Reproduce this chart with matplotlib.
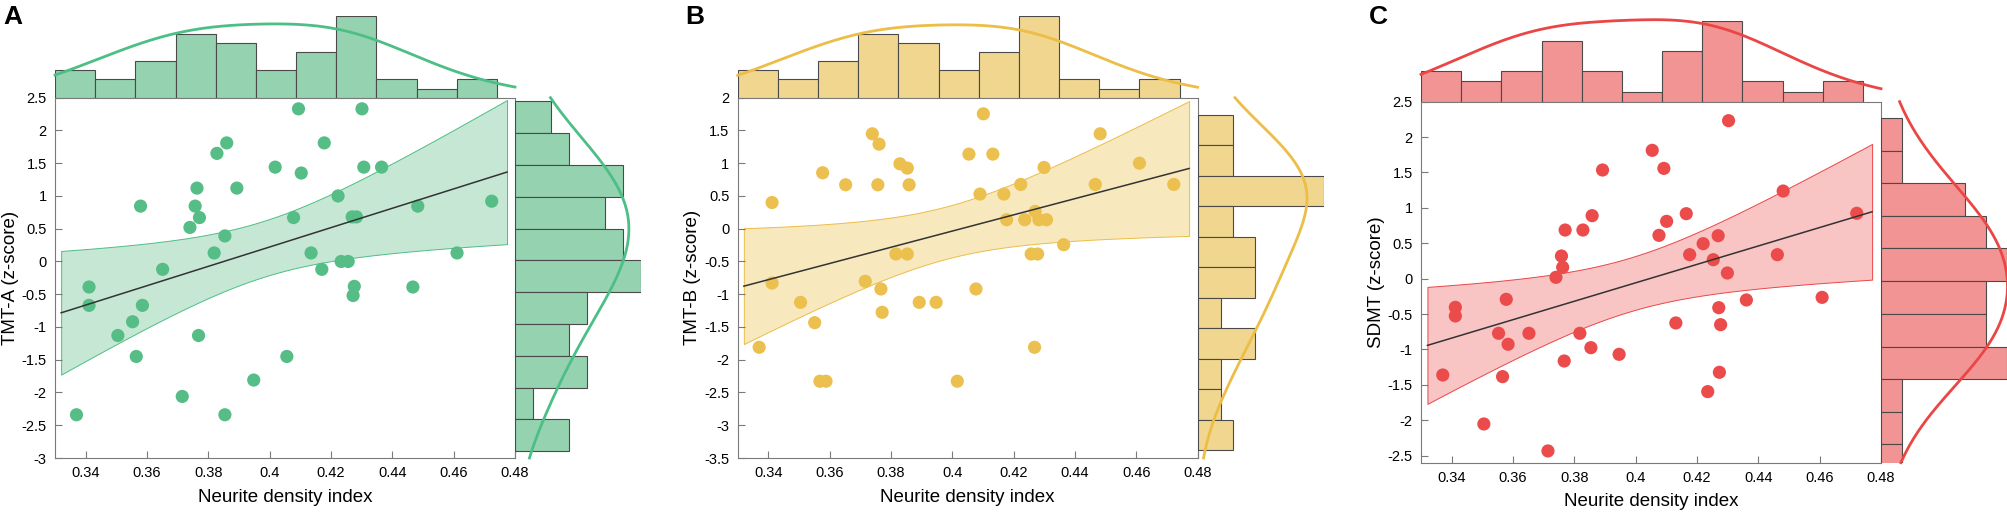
import numpy as np
import matplotlib
matplotlib.use("Agg")
import matplotlib.pyplot as plt

plt.rcParams['font.family'] = ['Liberation Sans', 'DejaVu Sans']
plt.rcParams['axes.unicode_minus'] = False

# ---- datos ----
ndi_a = [0.4094, 0.4301, 0.3860, 0.4178, 0.3828, 0.4018, 0.4307, 0.4365, 0.4103, 0.3763,
         0.3893, 0.4223, 0.4724, 0.3579, 0.3757, 0.4483, 0.3771, 0.4078, 0.4269, 0.4283,
         0.3740, 0.3854, 0.3819, 0.4135, 0.4611, 0.4233, 0.4256, 0.3651, 0.4170, 0.3411,
         0.4276, 0.4467, 0.4272, 0.3411, 0.3585, 0.3553, 0.3505, 0.3768, 0.3565, 0.4056,
         0.3948, 0.3715, 0.3370, 0.3854]
tmt_a = [2.33, 2.33, 1.81, 1.81, 1.65, 1.44, 1.44, 1.44, 1.35, 1.12,
         1.12, 1.00, 0.92, 0.845, 0.845, 0.845, 0.67, 0.67, 0.68, 0.68,
         0.52, 0.39, 0.13, 0.13, 0.13, 0.00, 0.00, -0.12, -0.12, -0.39,
         -0.38, -0.39, -0.52, -0.67, -0.67, -0.92, -1.13, -1.13, -1.45, -1.45,
         -1.81, -2.06, -2.34, -2.34]

ndi_b = [0.4101, 0.3739, 0.3761, 0.4054, 0.4132, 0.3829, 0.3853, 0.3577, 0.3652, 0.3757,
         0.3859, 0.4090, 0.4168, 0.3412, 0.4177, 0.3816, 0.3853, 0.3716, 0.3412, 0.3767,
         0.4077, 0.3505, 0.3892, 0.3947, 0.3771, 0.3551, 0.3370, 0.3568, 0.3588, 0.4016,
         0.4482, 0.4610, 0.4299, 0.4223, 0.4466, 0.4722, 0.4236, 0.4270, 0.4282, 0.4307,
         0.4363, 0.4257, 0.4278, 0.4268]
tmt_b = [1.754, 1.449, 1.291, 1.139, 1.139, 0.991, 0.925, 0.854, 0.671, 0.671,
         0.671, 0.529, 0.529, 0.400, 0.137, -0.386, -0.386, -0.803, -0.829, -0.920,
         -0.920, -1.124, -1.124, -1.124, -1.276, -1.434, -1.810, -2.328, -2.328, -2.328,
         1.449, 1.000, 0.935, 0.676, 0.676, 0.676, 0.137, 0.264, 0.137, 0.137,
         -0.244, -0.386, -0.386, -1.810]

ndi_c = [0.4054, 0.4092, 0.3892, 0.4165, 0.3858, 0.4101, 0.3770, 0.3828, 0.4076, 0.4176,
         0.3758, 0.3762, 0.3740, 0.3578, 0.3412, 0.3412, 0.3553, 0.3652, 0.3818, 0.4131,
         0.3584, 0.3854, 0.3946, 0.3767, 0.3371, 0.3566, 0.3505, 0.3714,
         0.4303, 0.4481, 0.4721, 0.4269, 0.4220, 0.4462, 0.4253, 0.4299, 0.4361, 0.4608,
         0.4271, 0.4277, 0.4273, 0.4235]
sdmt = [1.813, 1.558, 1.535, 0.918, 0.890, 0.810, 0.687, 0.687, 0.612, 0.339,
        0.320, 0.160, 0.019, -0.292, -0.405, -0.527, -0.772, -0.772, -0.772, -0.626,
        -0.927, -0.975, -1.069, -1.163, -1.361, -1.384, -2.053, -2.434,
        2.232, 1.238, 0.923, 0.607, 0.494, 0.339, 0.268, 0.080, -0.301, -0.264,
        -0.410, -0.650, -1.323, -1.596]

# histogramas marginales (bordes y conteos leidos)
top_edges = [0.3300, 0.3431, 0.3562, 0.3693, 0.3824, 0.3955, 0.4086,
             0.4217, 0.4348, 0.4479, 0.4610, 0.4741]
top_counts_a = [3, 2, 4, 7, 6, 3, 5, 9, 2, 1, 2]
top_counts_b = [3, 2, 4, 7, 6, 3, 5, 9, 2, 1, 2]
top_counts_c = [3, 2, 3, 6, 3, 1, 5, 8, 2, 1, 2]

right_edges_a = [2.448, 1.964, 1.476, 0.987, 0.499, 0.015, -0.473, -0.957,
                 -1.440, -1.929, -2.412, -2.896]
right_counts_a = [2, 3, 6, 5, 6, 7, 4, 3, 4, 1, 3]
right_edges_b = [1.729, 1.271, 0.808, 0.341, -0.127, -0.590, -1.057, -1.520,
                 -1.983, -2.445, -2.913, -3.376]
right_counts_b = [3, 3, 11, 3, 5, 5, 2, 5, 2, 2, 3]
right_edges_c = [2.265, 1.803, 1.347, 0.885, 0.428, -0.033, -0.494, -0.960,
                 -1.417, -1.879, -2.340, -2.800]
right_counts_c = [1, 1, 4, 5, 6, 5, 5, 6, 1, 1, 1]

# altura maxima de las curvas de densidad (en conteos)
kde_top_peak = [8.1, 8.0, 8.1]
kde_right_peak = [6.3, 9.5, 6.0]

x_ticks = [0.34, 0.36, 0.38, 0.40, 0.42, 0.44, 0.46, 0.48]
x_ticklabels = ['0.34', '0.36', '0.38', '0.4', '0.42', '0.44', '0.46', '0.48']

W, H = 2008, 513
SPINE = '#7a7a7a'
EDGE = '#4a4a4a'


def rect(l, t, w, h):
    return [l / W, 1 - (t + h) / H, w / W, h / H]


def kde(vals, grid, factor):
    # densidad gaussiana suavizada (ancho de banda tipo Silverman, ampliado)
    vals = np.asarray(vals)
    bw = factor * 1.06 * vals.std(ddof=1) * len(vals) ** (-0.2)
    d = np.exp(-0.5 * ((grid[:, None] - vals[None, :]) / bw) ** 2).sum(axis=1)
    return d / d.max()


def panel(fig, x0, top, h, hist_h, ylim, x, y, ylabel, letter,
          tcounts, redges, rcounts, kpeak_t, kpeak_r, col):
    x = np.asarray(x)
    y = np.asarray(y)
    ax = fig.add_axes(rect(x0, top, 460, h))
    axt = fig.add_axes(rect(x0, top - hist_h, 460, hist_h))
    axr = fig.add_axes(rect(x0 + 460.5, top, 126, h))

    # ajuste lineal con banda de confianza
    n = len(x)
    A = np.column_stack([np.ones(n), x])
    beta = np.linalg.lstsq(A, y, rcond=None)[0]
    res = y - A @ beta
    s2 = (res ** 2).sum() / (n - 2)
    sxx = ((x - x.mean()) ** 2).sum()
    xs = np.linspace(x.min() - 0.005, x.max() + 0.005, 200)
    yhat = beta[0] + beta[1] * xs
    se = np.sqrt(s2 * (1 / n + (xs - x.mean()) ** 2 / sxx))
    crit = 2.54
    ax.fill_between(xs, yhat - crit * se, yhat + crit * se,
                    facecolor=col['fill'], edgecolor=col['line'], lw=0.7, zorder=1)
    ax.scatter(x, y, s=90, color=col['point'], edgecolors='none', zorder=2)
    ax.plot(xs, yhat, color='#333333', lw=1.1, zorder=3)

    ax.set_xlim(0.33, 0.48)
    ax.set_ylim(*ylim)
    ax.set_xticks(x_ticks)
    ax.set_xticklabels(x_ticklabels)
    ax.set_yticks(np.arange(np.ceil(ylim[0] * 2) / 2, ylim[1] + 0.01, 0.5))
    ax.set_yticklabels(['%g' % v for v in ax.get_yticks()])
    ax.tick_params(direction='in', length=5, width=0.8, color=SPINE,
                   labelsize=10.5, pad=6, top=False, right=False)
    for s in ax.spines.values():
        s.set_color(SPINE)
        s.set_linewidth(0.8)
    ax.set_xlabel('Neurite density index', fontsize=13.5, labelpad=6)
    ax.set_ylabel(ylabel, fontsize=13.5)
    ax.yaxis.set_label_coords(-0.079, 0.5)

    # histograma superior
    e = np.asarray(top_edges)
    axt.bar(e[:-1], tcounts, width=np.diff(e), align='edge',
            color=col['bar'], edgecolor=EDGE, lw=0.8)
    gx = np.linspace(0.33, 0.48, 300)
    axt.plot(gx, kde(x, gx, 1.35) * kpeak_t, color=col['line'], lw=2, clip_on=False)
    axt.set_xlim(0.33, 0.48)
    axt.set_ylim(0, max(tcounts))
    axt.axis('off')

    # histograma derecho
    re = np.asarray(redges)
    axr.barh(re[1:], rcounts, height=re[:-1] - re[1:], align='edge',
             color=col['bar'], edgecolor=EDGE, lw=0.8)
    gy = np.linspace(ylim[0], ylim[1], 300)
    axr.plot(kde(y, gy, 1.4) * kpeak_r, gy, color=col['line'], lw=2, clip_on=False)
    axr.set_ylim(*ylim)
    axr.set_xlim(0, max(rcounts))
    axr.axis('off')

    fig.text((x0 - 52) / W, 1 - 5 / H, letter, fontsize=19, fontweight='bold',
             va='top', ha='left')


fig = plt.figure(figsize=(W / 100, H / 100), dpi=100)

green = dict(point='#55bd85', bar='#95d2af', fill='#c5e7d4', line='#4cbf86')
yellow = dict(point='#ecc04f', bar='#f1d690', fill='#f7e8bd', line='#ecbd47')
red = dict(point='#ec4b4b', bar='#f39494', fill='#f9c4c4', line='#eb4646')

panel(fig, 55, 97.7, 360.3, 82, (-3, 2.5), ndi_a, tmt_a, 'TMT-A (z-score)', 'A',
      top_counts_a, right_edges_a, right_counts_a, kde_top_peak[0], kde_right_peak[0], green)
panel(fig, 737.7, 97.7, 360.3, 82, (-3.5, 2), ndi_b, tmt_b, 'TMT-B (z-score)', 'B',
      top_counts_b, right_edges_b, right_counts_b, kde_top_peak[1], kde_right_peak[1], yellow)
panel(fig, 1421, 101.7, 361, 81, (-2.6, 2.5), ndi_c, sdmt, 'SDMT (z-score)', 'C',
      top_counts_c, right_edges_c, right_counts_c, kde_top_peak[2], kde_right_peak[2], red)

fig.savefig('out.png', dpi=100)
